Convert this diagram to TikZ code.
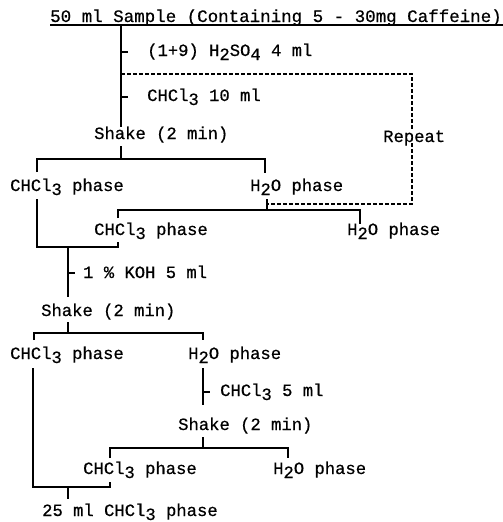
\documentclass[tikz,border=0pt]{standalone}
\usepackage{fontspec}
\newfontfamily\tyfam[FakeBold=0.6]{Liberation Mono}
\newcommand\lowd[1]{\raisebox{-4pt}{#1}}
\newcommand\tyfont{\tyfam\fontsize{17.2}{20}\selectfont}
\begin{document}
\begin{tikzpicture}[x=1pt,y=-1pt,
  txt/.style={font=\tyfont, inner sep=0pt, anchor=west, text height=11pt, text depth=1pt},
  ln/.style={line width=1.1pt},
  dsh/.style={line width=1.1pt, dash pattern=on 3.5pt off 2.5pt}]
\useasboundingbox (0,0) rectangle (503,522);
% texts
\node[txt, font=\tyfam\fontsize{17.5}{20}\selectfont] (top) at (50,17) {50 ml Sample (Containing 5 - 30mg Caffeine)};
\node[txt] (h2so4) at (147,51) {(1+9) H\lowd{2}SO\lowd{4} 4 ml};
\node[txt] (chcl10) at (147,96) {CHCl\lowd{3} 10 ml};
\node[txt] (shake1) at (94,134) {Shake (2 min)};
\node[txt] (repeat) at (383,137) {Repeat};
\node[txt] (c1) at (10,186) {CHCl\lowd{3} phase};
\node[txt] (w1) at (250,186) {H\lowd{2}O phase};
\node[txt] (c2) at (94,230) {CHCl\lowd{3} phase};
\node[txt] (w2) at (347,230) {H\lowd{2}O phase};
\node[txt] (koh) at (83,273) {1 \% KOH 5 ml};
\node[txt] (shake2) at (41,311) {Shake (2 min)};
\node[txt] (c3) at (10,354) {CHCl\lowd{3} phase};
\node[txt] (w3) at (188,354) {H\lowd{2}O phase};
\node[txt] (chcl5) at (220,391) {CHCl\lowd{3} 5 ml};
\node[txt] (shake3) at (178,425) {Shake (2 min)};
\node[txt] (c4) at (83,469) {CHCl\lowd{3} phase};
\node[txt] (w4) at (273,469) {H\lowd{2}O phase};
\node[txt] (final) at (42,511) {25 ml CHCl\lowd{3} phase};
% junction coordinates
\coordinate (ulL) at (50,25);
\coordinate (ulR) at (503,25);
\coordinate (m0) at (121,25);
\coordinate (m1) at (121,127);
\coordinate (t1) at (121,52);
\coordinate (t2) at (121,97);
\coordinate (d0) at (121,74);
\coordinate (s1) at (121,146);
\coordinate (b1) at (121,159);
\coordinate (w1s) at (267,199);
\coordinate (b2) at (267,210);
\coordinate (mg) at (68,247);
\coordinate (t3) at (68,273);
\coordinate (m2) at (68,297);
\coordinate (s2) at (68,322);
\coordinate (b3) at (68,333);
\coordinate (w3s) at (203,368);
\coordinate (t4) at (203,392);
\coordinate (m3) at (203,405);
\coordinate (s3) at (203,437);
\coordinate (b4) at (203,448);
\coordinate (fg) at (68,487);
\coordinate (fe) at (68,499);
% solid lines
\draw[ln] (ulL) -- (ulR);
\draw[ln] (m0) -- (m1);
\draw[ln] (t1) -- ++(7,0);
\draw[ln] (t2) -- ++(7,0);
\draw[ln] (s1) -- (b1);
\draw[ln] (37,172) -- (37,159) -- (b1) -- (265,159) -- (265,173);
\draw[ln] (w1s) -- (b2);
\draw[ln] (118,218) -- (118,210) -- (b2) -- (360,210) -- (360,224);
\draw[ln] (37,199) -- (37,247) -- (mg) -- (118,247) -- (118,242);
\draw[ln] (mg) -- (m2);
\draw[ln] (t3) -- ++(7,0);
\draw[ln] (s2) -- (b3);
\draw[ln] (34,340) -- (34,333) -- (b3) -- (203,333) -- (203,340);
\draw[ln] (w3s) -- (m3);
\draw[ln] (t4) -- ++(7,0);
\draw[ln] (s3) -- (b4);
\draw[ln] (110,458) -- (110,448) -- (b4) -- (288,448) -- (288,458);
\draw[ln] (33,368) -- (33,487) -- (fg) -- (110,487) -- (110,482);
\draw[ln] (fg) -- (fe);
% dashed repeat loop
\draw[dsh] (d0) -- (412,74) -- (repeat.north -| 412,0);
\draw[dsh] (repeat.south -| 412,0) -- (412,204) -- (b2 |- 0,204);
\end{tikzpicture}
\end{document}
